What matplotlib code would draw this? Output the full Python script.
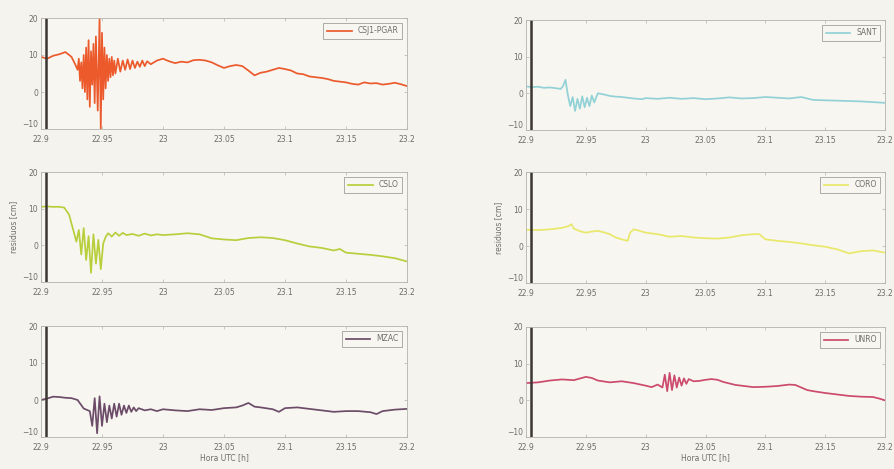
import matplotlib
matplotlib.use('Agg')
import matplotlib.pyplot as plt

# --- station series (hour UTC, residual cm) ---
t_csj1 = [22.9, 22.905, 22.91, 22.915, 22.92, 22.925, 22.928, 22.93,
          22.931, 22.932, 22.933, 22.934, 22.935, 22.936, 22.937, 22.938, 22.939, 22.940,
          22.941, 22.942, 22.943, 22.944, 22.945, 22.9465, 22.948, 22.949, 22.950, 22.951,
          22.952, 22.953, 22.954, 22.955, 22.956, 22.957, 22.958, 22.959, 22.960, 22.961,
          22.963, 22.965, 22.967, 22.969, 22.971, 22.973, 22.975, 22.977, 22.979, 22.981,
          22.983, 22.985, 22.987, 22.99, 22.995, 23.0, 23.005, 23.01, 23.015, 23.02, 23.025,
          23.03, 23.035, 23.04, 23.045, 23.05, 23.055, 23.06, 23.065, 23.07, 23.075, 23.08,
          23.085, 23.09, 23.095, 23.1, 23.105, 23.11, 23.115, 23.12, 23.125, 23.13, 23.135,
          23.14, 23.145, 23.15, 23.155, 23.16, 23.165, 23.17, 23.175, 23.18, 23.185, 23.19,
          23.195, 23.2]
y_csj1 = [9.5, 9.0, 9.8, 10.2, 10.8, 9.5, 7.5, 6.0,
          9, 3, 8, 1, 10, 0, 12, -2, 14, -4,
          11, 2, 13, -3, 15, -5, 20, -10, 16, -2,
          12, 1, 10, 3, 9, 4, 9.5, 4.5, 8.5, 5,
          9, 5.5, 8.5, 6, 8.8, 6.2, 8.5, 6.5, 8.2, 6.8,
          8.5, 7, 8.3, 7.5, 8.5, 9.0, 8.3, 7.8, 8.2, 8.0, 8.6,
          8.7, 8.5, 8.0, 7.2, 6.5, 7.0, 7.3, 7.0, 5.8, 4.5, 5.2,
          5.5, 6.0, 6.5, 6.2, 5.8, 5.0, 4.8, 4.2, 4.0, 3.8, 3.5,
          3.0, 2.8, 2.6, 2.2, 2.0, 2.6, 2.3, 2.4, 2.0, 2.2, 2.5,
          2.1, 1.6]

t_sant = [22.9, 22.905, 22.91, 22.915, 22.92, 22.925, 22.929, 22.931, 22.933,
          22.935, 22.937, 22.939, 22.941, 22.943, 22.945, 22.947, 22.949, 22.951,
          22.953, 22.955, 22.957, 22.96, 22.965, 22.97, 22.975, 22.98, 22.985, 22.99,
          22.997, 23.0, 23.01, 23.02, 23.03, 23.04, 23.05, 23.06, 23.07, 23.08,
          23.09, 23.1, 23.11, 23.12, 23.13, 23.14, 23.15, 23.16, 23.17, 23.18,
          23.19, 23.2]
y_sant = [1.9, 1.7, 1.8, 1.5, 1.6, 1.4, 1.2, 2.0, 3.7,
          -0.5, -3.5, -1.0, -4.8, -1.5, -4.2, -0.8, -3.8, -1.2,
          -3.5, -0.6, -2.5, 0.0, -0.3, -0.7, -0.9, -1.0, -1.2, -1.4,
          -1.6, -1.3, -1.5, -1.2, -1.5, -1.3, -1.6, -1.4, -1.1, -1.4,
          -1.3, -1.0, -1.2, -1.4, -1.0, -1.8, -1.9, -2.0, -2.1, -2.2,
          -2.4, -2.6]

t_cslo = [22.9, 22.905, 22.91, 22.915, 22.919, 22.923, 22.926, 22.929,
          22.931, 22.933, 22.935, 22.937, 22.939, 22.941, 22.943, 22.945, 22.947,
          22.949, 22.951, 22.953, 22.955, 22.958, 22.961, 22.964, 22.967, 22.97,
          22.975, 22.98, 22.985, 22.99, 22.995, 23.0, 23.01, 23.02, 23.03, 23.04,
          23.05, 23.06, 23.07, 23.08, 23.09, 23.1, 23.11, 23.12, 23.13, 23.14,
          23.145, 23.15, 23.16, 23.17, 23.18, 23.19, 23.2]
y_cslo = [10.5, 10.6, 10.5, 10.5, 10.3, 8.4, 4.7, 1.0,
          4.2, -2.5, 4.7, -4.0, 2.5, -7.5, 3.0, -5.0, 1.5,
          -6.5, 0.5, 2.3, 3.3, 2.4, 3.5, 2.6, 3.4, 2.8,
          3.1, 2.6, 3.2, 2.7, 3.0, 2.8, 3.0, 3.3, 3.0, 1.9,
          1.6, 1.4, 2.0, 2.2, 2.0, 1.4, 0.5, -0.3, -0.7, -1.4,
          -1.0, -2.0, -2.3, -2.6, -3.0, -3.5, -4.4]

t_coro = [22.9, 22.91, 22.92, 22.93, 22.935, 22.938, 22.94, 22.945, 22.95, 22.955,
          22.96, 22.965, 22.97, 22.975, 22.98, 22.985, 22.987, 22.99, 22.995, 23.0,
          23.01, 23.02, 23.03, 23.04, 23.05, 23.06, 23.07, 23.08, 23.09, 23.095,
          23.1, 23.11, 23.12, 23.13, 23.14, 23.15, 23.16, 23.17, 23.18, 23.19, 23.2]
y_coro = [4.4, 4.3, 4.5, 4.9, 5.3, 5.9, 4.7, 4.0, 3.6, 3.9,
          4.1, 3.7, 3.2, 2.3, 1.8, 1.4, 3.6, 4.5, 4.1, 3.6,
          3.2, 2.5, 2.7, 2.3, 2.1, 2.0, 2.3, 2.9, 3.2, 3.2,
          1.8, 1.4, 1.1, 0.7, 0.2, -0.2, -0.9, -2.0, -1.4, -1.2, -1.8]

t_mzac = [22.9, 22.905, 22.91, 22.915, 22.92, 22.925, 22.93, 22.935,
          22.940, 22.942, 22.944, 22.946, 22.948, 22.950, 22.952, 22.954, 22.956,
          22.958, 22.960, 22.962, 22.964, 22.966, 22.968, 22.970, 22.972, 22.974,
          22.976, 22.978, 22.98, 22.985, 22.99, 22.995, 23.0, 23.01, 23.02, 23.03,
          23.04, 23.05, 23.06, 23.065, 23.07, 23.075, 23.08, 23.09, 23.095, 23.1,
          23.11, 23.12, 23.13, 23.14, 23.15, 23.16, 23.17, 23.175, 23.18, 23.19, 23.2]
y_mzac = [0.0, 0.4, 0.9, 0.8, 0.6, 0.5, 0.0, -2.3,
          -3.0, -7.0, 0.5, -9.0, 1.0, -7.0, -1.0, -6.0, -1.5,
          -5.0, -1.0, -4.5, -1.0, -4.0, -1.5, -3.5, -1.5, -3.2,
          -2.0, -3.0, -2.2, -2.8, -2.5, -3.0, -2.5, -2.8, -3.0, -2.5,
          -2.7, -2.2, -2.0, -1.5, -0.8, -1.8, -2.0, -2.5, -3.2, -2.2,
          -2.0, -2.4, -2.8, -3.2, -3.0, -3.0, -3.3, -3.8, -3.0, -2.6, -2.4]

t_unro = [22.9, 22.91, 22.92, 22.93, 22.94, 22.95, 22.955, 22.96, 22.97, 22.98,
          22.99, 23.0, 23.005, 23.01, 23.014, 23.016, 23.018, 23.020, 23.022, 23.024,
          23.026, 23.028, 23.030, 23.032, 23.034, 23.036, 23.04, 23.045, 23.05, 23.055,
          23.06, 23.065, 23.07, 23.075, 23.08, 23.085, 23.09, 23.1, 23.11, 23.12,
          23.125, 23.13, 23.135, 23.14, 23.15, 23.16, 23.17, 23.18, 23.19, 23.195, 23.2]
y_unro = [4.7, 4.9, 5.4, 5.7, 5.5, 6.4, 6.1, 5.4, 4.9, 5.2,
          4.7, 4.0, 3.6, 4.3, 3.5, 7.0, 2.5, 7.5, 2.8, 6.8,
          3.5, 6.2, 4.0, 6.0, 4.5, 5.8, 5.2, 5.3, 5.6, 5.8,
          5.6, 5.0, 4.6, 4.2, 4.0, 3.8, 3.6, 3.7, 3.9, 4.3,
          4.2, 3.5, 2.8, 2.5, 2.0, 1.6, 1.2, 1.0, 0.9, 0.5, 0.0]

event_time = 22.904
x_ticks = [22.9, 22.95, 23.0, 23.05, 23.1, 23.15, 23.2]
x_tick_labels = ['22.9', '22.95', '23', '23.05', '23.1', '23.15', '23.2']
y_ticks = [-10, 0, 10, 20]

TEXT_GRAY = '#6e6e6a'
SPINE_GRAY = '#b4b4ae'
BG = '#f4f3ee'

# panel boxes in pixels: (left, top, right, bottom)
W, H = 895, 469
panels = [
    ((41, 18, 407, 129), t_csj1, y_csj1, '#ec5a2c', 'CSJ1-PGAR', False, False),
    ((526, 20, 885, 130), t_sant, y_sant, '#92d2d6', 'SANT', False, False),
    ((41, 172, 407, 282), t_cslo, y_cslo, '#b8cf3c', 'CSLO', True, False),
    ((526, 172, 885, 283), t_coro, y_coro, '#e9e86a', 'CORO', True, False),
    ((41, 326, 407, 437), t_mzac, y_mzac, '#6c4c68', 'MZAC', False, True),
    ((526, 327, 885, 437), t_unro, y_unro, '#cc4a6c', 'UNRO', False, True),
]

fig = plt.figure(figsize=(W / 100, H / 100), dpi=100, facecolor=BG)

for (l, t, r, b), tt, yy, color, name, ylab, xlab in panels:
    ax = fig.add_axes([l / W, 1 - b / H, (r - l) / W, (b - t) / H])
    ax.set_facecolor('#f7f6f1')
    ax.plot(tt, yy, color=color, linewidth=1.25, label=name)
    ax.axvline(event_time, color='#3b3631', linewidth=1.8)
    ax.set_xlim(22.9, 23.2)
    ax.set_ylim(-10, 20)
    ax.set_xticks(x_ticks)
    ax.set_xticklabels(x_tick_labels)
    ax.set_yticks(y_ticks)
    ax.tick_params(direction='in', length=2.5, width=0.5, colors=SPINE_GRAY,
                   labelcolor=TEXT_GRAY, labelsize=5.5, pad=2,
                   top=True, right=True)
    ax.tick_params(axis='x', pad=4)
    # -10 sits a little above the corner, as in the scan
    ax.get_yticklabels()[0].set_verticalalignment('bottom')
    for s in ax.spines.values():
        s.set_color(SPINE_GRAY)
        s.set_linewidth(0.6)
    if ylab:
        ax.set_ylabel('residuos [cm]', fontsize=5.5, color=TEXT_GRAY, labelpad=3)
    if xlab:
        ax.set_xlabel('Hora UTC [h]', fontsize=5.5, color=TEXT_GRAY, labelpad=1)
    leg = ax.legend(loc='upper right', fontsize=5.5, frameon=True, fancybox=False,
                    handlelength=3.2, borderpad=0.5, borderaxespad=0.6)
    leg.get_frame().set_edgecolor('#8a8a84')
    leg.get_frame().set_linewidth(0.6)
    leg.get_frame().set_facecolor('#f7f6f1')
    for txt in leg.get_texts():
        txt.set_color(TEXT_GRAY)

fig.savefig('out.png', dpi=100, facecolor=BG)
